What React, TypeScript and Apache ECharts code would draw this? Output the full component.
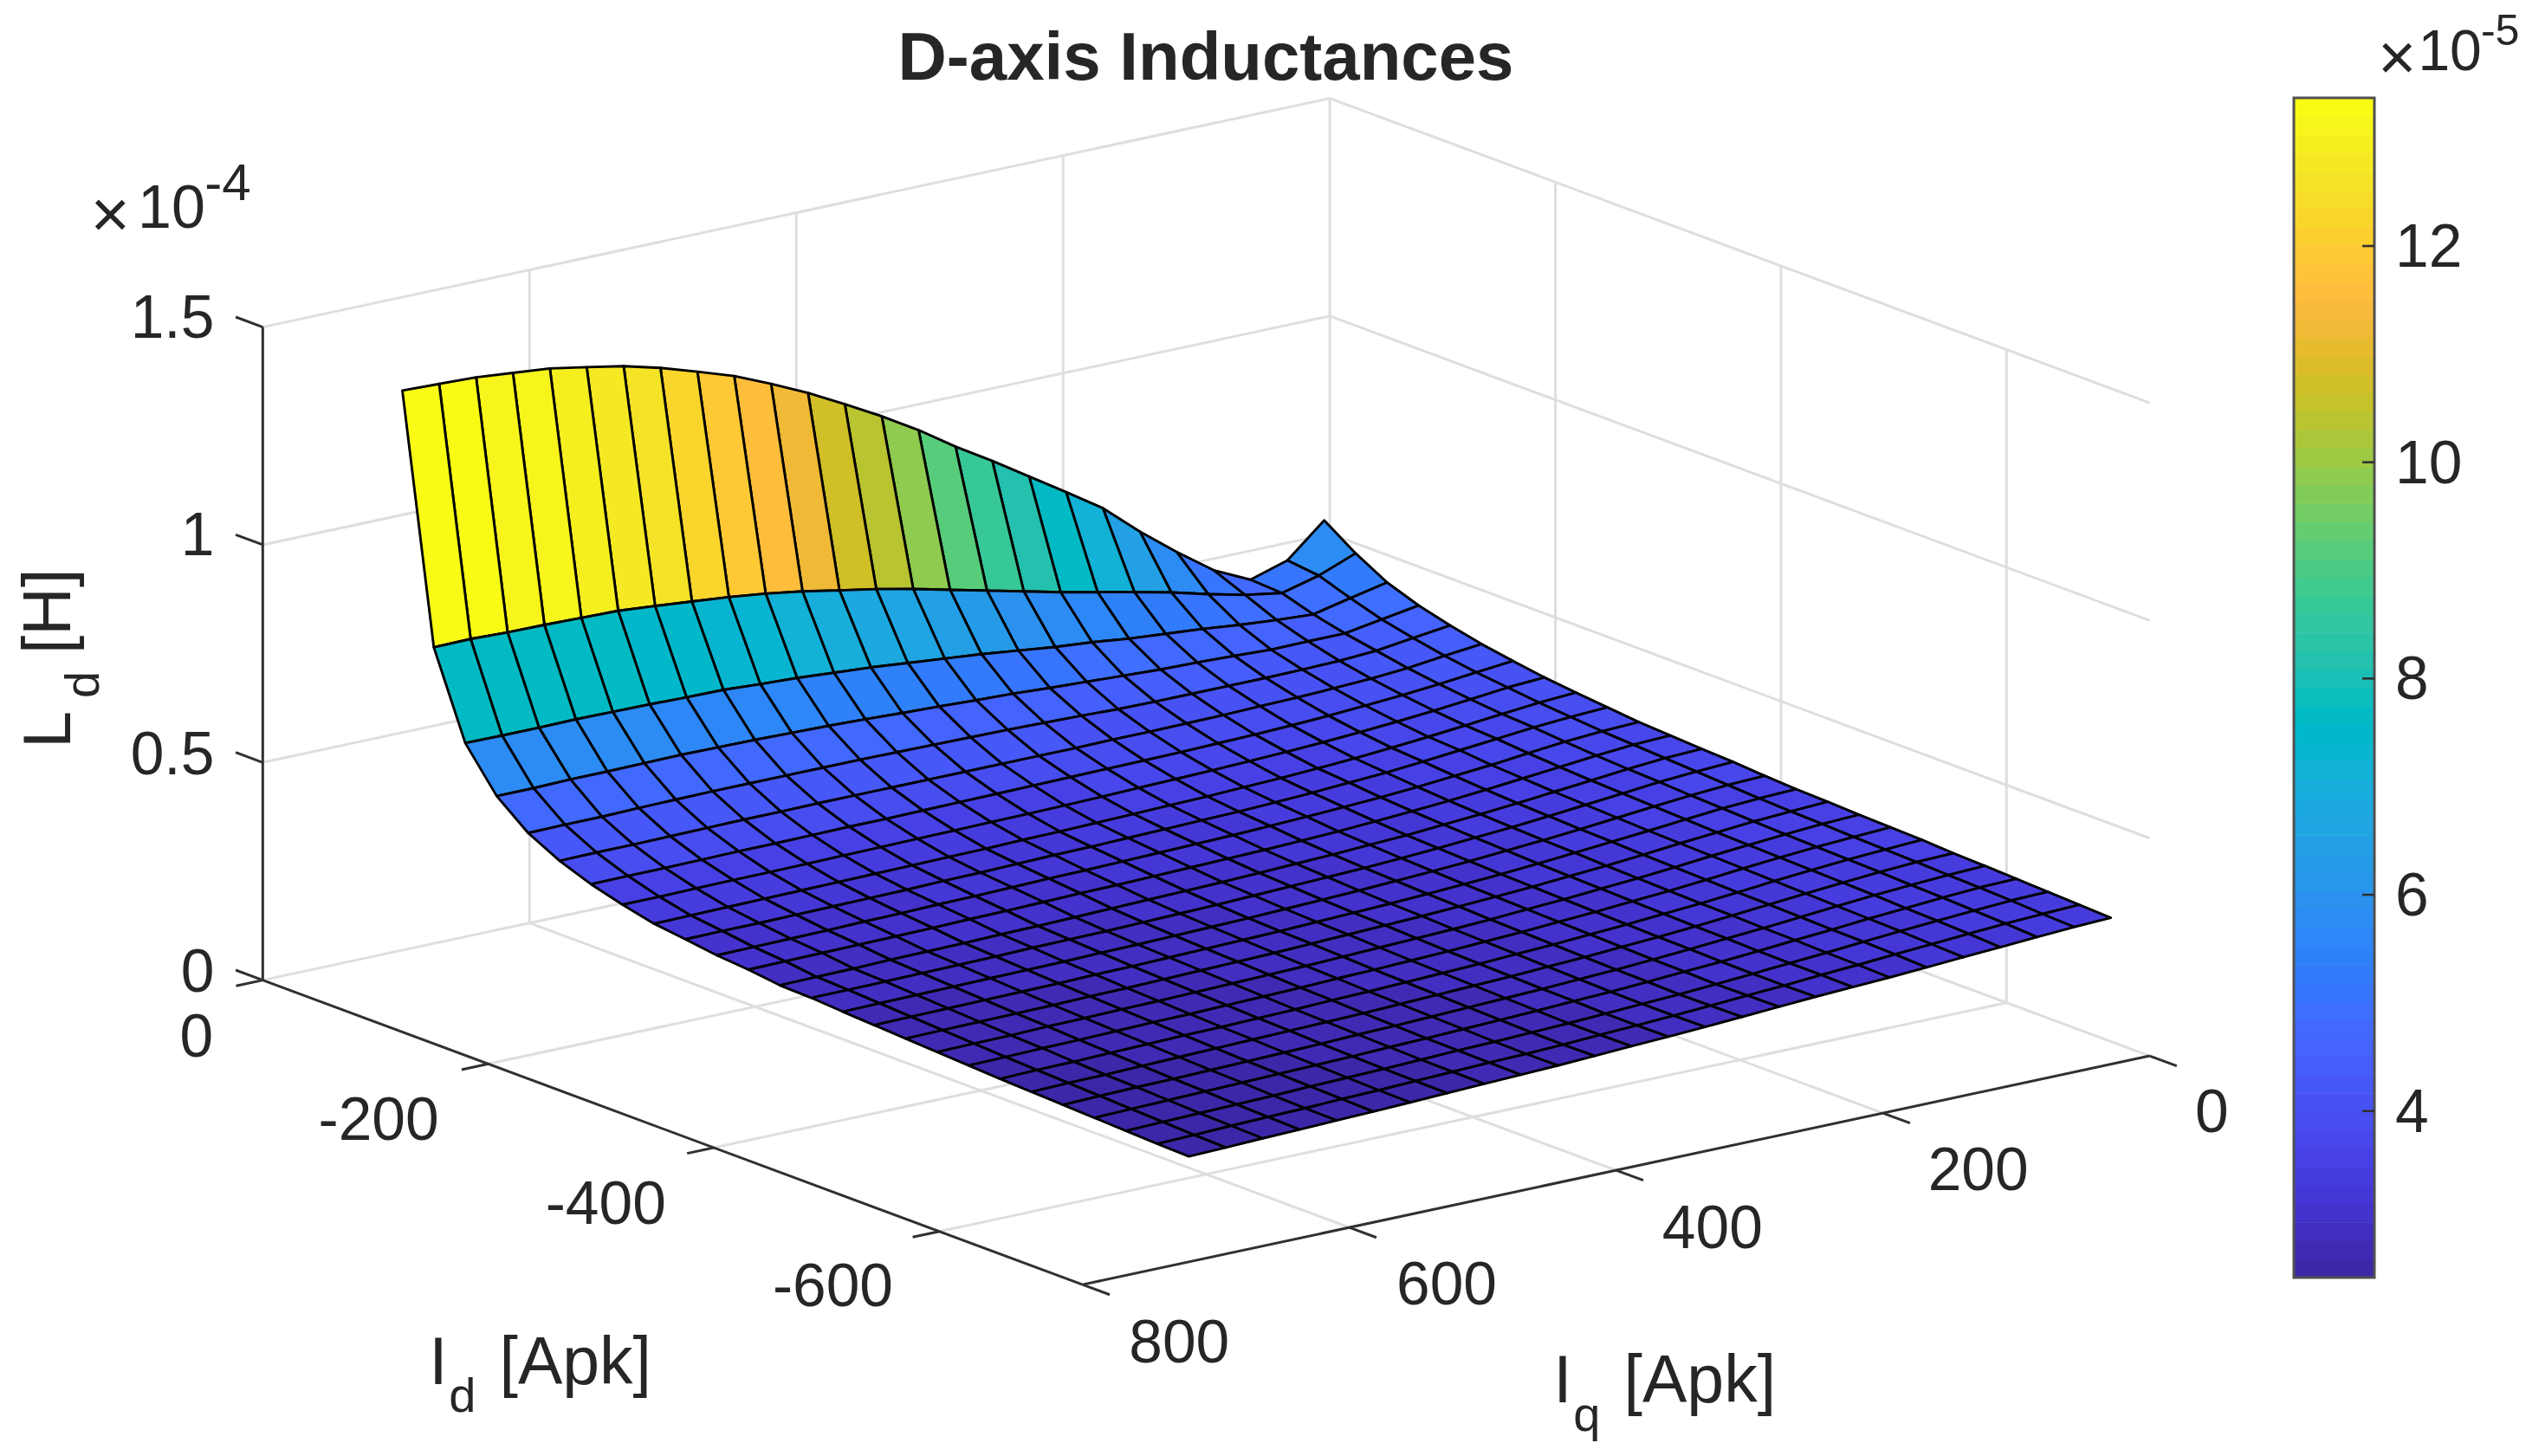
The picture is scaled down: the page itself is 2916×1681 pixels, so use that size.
import React, { useEffect, useRef } from "react";
import * as echarts from "echarts";

// ---------- data ----------
const idGrid = [-28, -55.9, -83.8, -111.7, -139.6, -167.5, -195.4, -223.3, -251.2, -279.1, -307, -334.9, -362.8, -390.7, -418.6, -446.5, -474.4, -502.3, -530.2, -558.1, -586, -613.9, -641.8, -669.7, -697.6, -725.5];
const iqGrid = [27.9, 55.5, 83.2, 110.8, 138.5, 166.1, 193.8, 221.4, 249.1, 276.7, 304.3, 332, 359.6, 387.3, 414.9, 442.6, 470.2, 497.8, 525.5, 553.1, 580.8, 608.4, 636.1, 663.7, 691.4, 719];

// Ld in units of 1e-5 H, one row per Id value, one column per Iq value
const row00 = [5.76,5.02,4.76,5.16,5.76,6.41,7.13,7.68,8.22,8.76,9.27,9.83,10.33,10.79,11.23,11.62,11.98,12.26,12.53,12.75,12.91,13.06,13.14,13.22,13.25,13.28];
const row01 = [5.27,4.94,4.72,4.86,5.06,5.28,5.47,5.65,5.83,6.03,6.23,6.43,6.63,6.81,6.96,7.12,7.25,7.35,7.43,7.51,7.58,7.60,7.62,7.63,7.66,7.65];
const row02 = [4.87,4.69,4.50,4.55,4.62,4.71,4.78,4.85,4.95,5.02,5.12,5.22,5.30,5.38,5.46,5.52,5.58,5.62,5.67,5.68,5.70,5.71,5.72,5.71,5.71,5.72];
const row03 = [4.61,4.47,4.33,4.33,4.32,4.36,4.39,4.41,4.45,4.49,4.53,4.58,4.61,4.65,4.68,4.72,4.75,4.77,4.79,4.80,4.81,4.80,4.79,4.79,4.77,4.77];
const row04 = [4.42,4.31,4.20,4.15,4.13,4.12,4.12,4.12,4.12,4.13,4.16,4.18,4.20,4.21,4.22,4.23,4.24,4.24,4.24,4.24,4.24,4.23,4.22,4.20,4.20,4.19];
const row05 = [4.26,4.17,4.07,4.01,3.97,3.94,3.92,3.90,3.89,3.88,3.88,3.87,3.87,3.87,3.87,3.87,3.87,3.87,3.87,3.86,3.86,3.85,3.84,3.83,3.83,3.82];
const row06 = [4.14,4.06,3.97,3.90,3.84,3.79,3.75,3.72,3.70,3.68,3.67,3.66,3.65,3.64,3.63,3.62,3.61,3.60,3.60,3.59,3.58,3.58,3.57,3.56,3.56,3.55];
const row07 = [4.03,3.98,3.89,3.81,3.74,3.68,3.63,3.59,3.56,3.53,3.51,3.49,3.47,3.45,3.44,3.43,3.42,3.41,3.40,3.39,3.38,3.37,3.37,3.36,3.35,3.35];
const row08 = [3.95,3.90,3.82,3.74,3.66,3.59,3.53,3.48,3.44,3.41,3.38,3.36,3.34,3.32,3.30,3.29,3.27,3.26,3.25,3.24,3.23,3.22,3.21,3.20,3.19,3.18];
const row09 = [3.88,3.84,3.78,3.70,3.62,3.54,3.47,3.42,3.37,3.33,3.30,3.28,3.26,3.24,3.22,3.21,3.19,3.17,3.16,3.14,3.13,3.12,3.11,3.10,3.10,3.09];
const row10 = [3.81,3.78,3.72,3.64,3.55,3.48,3.41,3.35,3.31,3.27,3.24,3.21,3.19,3.17,3.15,3.13,3.12,3.10,3.08,3.07,3.05,3.04,3.02,3.01,3.00,2.99];
const row11 = [3.77,3.74,3.67,3.59,3.51,3.43,3.36,3.30,3.25,3.20,3.17,3.14,3.12,3.10,3.08,3.06,3.05,3.03,3.01,3.00,2.98,2.97,2.96,2.95,2.94,2.93];
const row12 = [3.73,3.70,3.63,3.55,3.47,3.39,3.32,3.26,3.20,3.16,3.12,3.09,3.06,3.03,3.01,2.99,2.97,2.95,2.93,2.92,2.90,2.89,2.88,2.86,2.85,2.84];
const row13 = [3.70,3.66,3.60,3.52,3.44,3.36,3.29,3.23,3.17,3.12,3.08,3.05,3.02,2.99,2.96,2.94,2.92,2.90,2.89,2.88,2.86,2.85,2.84,2.83,2.82,2.82];
const row14 = [3.65,3.62,3.56,3.49,3.41,3.33,3.26,3.20,3.14,3.09,3.05,3.01,2.98,2.95,2.92,2.90,2.88,2.86,2.85,2.83,2.82,2.81,2.80,2.79,2.78,2.77];
const row15 = [3.61,3.58,3.53,3.46,3.38,3.31,3.24,3.17,3.11,3.06,3.02,2.98,2.95,2.92,2.89,2.87,2.85,2.83,2.81,2.80,2.78,2.77,2.76,2.75,2.74,2.73];
const row16 = [3.59,3.55,3.50,3.43,3.36,3.28,3.21,3.15,3.09,3.04,3.00,2.96,2.93,2.90,2.87,2.84,2.82,2.80,2.78,2.76,2.75,2.73,2.72,2.71,2.70,2.69];
const row17 = [3.56,3.53,3.47,3.41,3.34,3.26,3.19,3.13,3.07,3.02,2.97,2.93,2.90,2.87,2.84,2.81,2.79,2.77,2.75,2.73,2.72,2.70,2.69,2.67,2.66,2.65];
const row18 = [3.54,3.50,3.45,3.39,3.32,3.24,3.17,3.11,3.05,3.00,2.95,2.91,2.87,2.84,2.81,2.79,2.76,2.74,2.72,2.70,2.69,2.67,2.65,2.64,2.62,2.61];
const row19 = [3.52,3.48,3.43,3.37,3.30,3.22,3.15,3.09,3.03,2.98,2.93,2.89,2.85,2.82,2.79,2.76,2.74,2.71,2.69,2.67,2.66,2.64,2.62,2.60,2.59,2.57];
const row20 = [3.48,3.46,3.41,3.35,3.28,3.21,3.14,3.07,3.01,2.96,2.91,2.87,2.83,2.80,2.77,2.74,2.71,2.69,2.67,2.65,2.63,2.61,2.59,2.57,2.56,2.54];
const row21 = [3.46,3.43,3.38,3.33,3.26,3.19,3.12,3.06,3.00,2.94,2.89,2.85,2.81,2.78,2.75,2.72,2.69,2.67,2.64,2.62,2.60,2.58,2.56,2.55,2.53,2.51];
const row22 = [3.43,3.41,3.36,3.30,3.24,3.17,3.11,3.04,2.98,2.93,2.88,2.83,2.80,2.76,2.73,2.70,2.67,2.65,2.62,2.60,2.58,2.56,2.54,2.52,2.50,2.48];
const row23 = [3.40,3.38,3.33,3.28,3.22,3.16,3.09,3.03,2.97,2.91,2.86,2.82,2.78,2.74,2.71,2.68,2.66,2.63,2.60,2.58,2.56,2.53,2.51,2.49,2.47,2.45];
const row24 = [3.37,3.34,3.30,3.25,3.19,3.14,3.08,3.03,2.97,2.92,2.87,2.82,2.78,2.74,2.70,2.67,2.65,2.62,2.59,2.56,2.54,2.51,2.49,2.47,2.44,2.42];
const row25 = [3.34,3.31,3.26,3.21,3.16,3.11,3.06,3.02,2.98,2.93,2.88,2.83,2.79,2.75,2.71,2.67,2.64,2.61,2.58,2.55,2.52,2.50,2.47,2.45,2.42,2.40];
const ldRows = [row00,row01,row02,row03,row04,row05,row06,row07,row08,row09,row10,row11,row12,row13,row14,row15,row16,row17,row18,row19,row20,row21,row22,row23,row24,row25];

const idTicks = [0, -200, -400, -600];
const iqTicks = [0, 200, 400, 600, 800];
const zTicks = [0, 5, 10, 15]; // 1e-5 H
const idLabels = ["0", "-200", "-400", "-600"];
const iqLabels = ["0", "200", "400", "600", "800"];
const zLabels = ["0", "0.5", "1", "1.5"];
const cbarTicks = [4, 6, 8, 10, 12];
const C_MIN = 2.46;
const C_MAX = 13.37;
const ID_END = -727;
const IQ_END = 800;

const parula = [
  [0.2422,0.1504,0.6603],[0.2504,0.1650,0.7076],[0.2578,0.1818,0.7511],[0.2647,0.1978,0.7952],
  [0.2706,0.2147,0.8364],[0.2751,0.2342,0.8710],[0.2783,0.2559,0.8991],[0.2803,0.2782,0.9221],
  [0.2813,0.3006,0.9414],[0.2810,0.3228,0.9579],[0.2795,0.3447,0.9717],[0.2760,0.3667,0.9829],
  [0.2699,0.3892,0.9906],[0.2602,0.4123,0.9952],[0.2440,0.4358,0.9988],[0.2206,0.4603,0.9973],
  [0.1963,0.4847,0.9892],[0.1834,0.5074,0.9798],[0.1786,0.5289,0.9682],[0.1764,0.5499,0.9520],
  [0.1687,0.5703,0.9359],[0.1540,0.5902,0.9218],[0.1460,0.6091,0.9079],[0.1380,0.6276,0.8973],
  [0.1248,0.6459,0.8883],[0.1113,0.6635,0.8763],[0.0952,0.6798,0.8598],[0.0689,0.6948,0.8394],
  [0.0297,0.7082,0.8163],[0.0036,0.7203,0.7917],[0.0067,0.7312,0.7660],[0.0433,0.7411,0.7394],
  [0.0964,0.7500,0.7120],[0.1408,0.7584,0.6842],[0.1717,0.7670,0.6554],[0.1938,0.7758,0.6251],
  [0.2161,0.7843,0.5923],[0.2470,0.7918,0.5567],[0.2906,0.7973,0.5188],[0.3406,0.8008,0.4789],
  [0.3909,0.8029,0.4354],[0.4456,0.8024,0.3909],[0.5044,0.7993,0.3480],[0.5616,0.7942,0.3045],
  [0.6174,0.7876,0.2612],[0.6720,0.7793,0.2227],[0.7242,0.7698,0.1910],[0.7738,0.7598,0.1646],
  [0.8203,0.7498,0.1535],[0.8634,0.7406,0.1596],[0.9035,0.7330,0.1774],[0.9393,0.7288,0.2100],
  [0.9728,0.7298,0.2394],[0.9956,0.7434,0.2371],[0.9970,0.7659,0.2199],[0.9952,0.7893,0.2028],
  [0.9892,0.8136,0.1885],[0.9786,0.8386,0.1766],[0.9676,0.8639,0.1643],[0.9610,0.8890,0.1537],
  [0.9597,0.9135,0.1423],[0.9628,0.9373,0.1265],[0.9691,0.9606,0.1064],[0.9769,0.9839,0.0805],
];

// ---------- projection of the MATLAB view (orthographic) ----------
const S = 2916 / 1568;
const project = (id: number, iq: number, z: number): [number, number] => [
  S * (825.5 - 0.7 * id - 0.828 * iq),
  S * (466.5 - 0.26 * id + 0.1775 * iq - 27.03 * z),
];

const toCss = (c: number[]) =>
  `rgb(${Math.round(c[0] * 255)},${Math.round(c[1] * 255)},${Math.round(c[2] * 255)})`;
const colorOf = (z: number) => {
  const k = Math.max(0, Math.min(parula.length - 1, Math.floor(((z - C_MIN) / (C_MAX - C_MIN)) * parula.length)));
  return toCss(parula[k]);
};

const GRID = "#dedede";
const AXIS = "#303030";
const TEXT = "#262626";
const FONT = '"Liberation Sans", Arial, sans-serif';

// segments: id1, iq1, z1, id2, iq2, z2, kind (0 grid, 1 axis)
const segments: number[][] = [];
const zTop = zTicks[zTicks.length - 1];
idTicks.forEach((id) => {
  if (id !== 0) {
    segments.push([id, IQ_END, 0, id, 0, 0, 0]);
    segments.push([id, 0, 0, id, 0, zTop, 0]);
  }
});
iqTicks.forEach((iq) => {
  if (iq !== 0 && iq !== IQ_END) {
    segments.push([ID_END, iq, 0, 0, iq, 0, 0]);
    segments.push([0, iq, 0, 0, iq, zTop, 0]);
  }
});
zTicks.forEach((z) => {
  segments.push([0, IQ_END, z, 0, 0, z, 0]);
  segments.push([0, 0, z, ID_END, 0, z, 0]);
});
segments.push([0, 0, 0, 0, 0, zTop, 0]);
// axis lines
segments.push([0, IQ_END, 0, 0, IQ_END, zTop, 1]);
segments.push([0, IQ_END, 0, ID_END, IQ_END, 0, 1]);
segments.push([ID_END, IQ_END, 0, ID_END, 0, 0, 1]);
// axis ticks
zTicks.forEach((z) => segments.push([0, IQ_END, z, 24, IQ_END, z, 1]));
idTicks.forEach((id) => segments.push([id, IQ_END, 0, id, IQ_END + 20, 0, 1]));
iqTicks.forEach((iq) => segments.push([ID_END, iq, 0, ID_END - 24, iq, 0, 1]));

// cells, far to near
const cells: number[][] = [];
for (let sum = 0; sum <= (idGrid.length - 2) + (iqGrid.length - 2); sum++) {
  for (let i = 0; i < idGrid.length - 1; i++) {
    const j = sum - i;
    if (j >= 0 && j < iqGrid.length - 1) cells.push([i, j]);
  }
}

const text = (t: string, x: number, y: number, size: number, align = "center", extra: any = {}) => {
  const { bold, ...rest } = extra;
  return {
    type: "text",
    x: x * S,
    y: y * S,
    silent: true,
    ...rest,
    style: {
      text: t,
      fill: TEXT,
      font: `${bold ? "bold " : ""}${size}px ${FONT}`,
      textAlign: align,
      textVerticalAlign: "middle",
    },
  };
};

const TICK = 69.5;
const LABEL = 77;
const SUB = 56;

const zLabelY = [603, 468, 332, 197];
const idLabelPos = [[122, 643], [235, 695], [376, 747], [517, 798]];
const iqLabelPos = [[1373, 690], [1228, 726], [1063, 762], [898, 797], [732, 833]];

const graphics: any[] = [
  text("D-axis Inductances", 748.5, 35, 78, "center", { bold: true }),
  ...zLabels.map((t, k) => text(t, 133, zLabelY[k], TICK, "right")),
  ...idLabels.map((t, k) => text(t, idLabelPos[k][0], idLabelPos[k][1], TICK)),
  ...iqLabels.map((t, k) => text(t, iqLabelPos[k][0], iqLabelPos[k][1], TICK)),
  text("×", 68.5, 133, 78),
  text("10", 85.5, 128.5, 70, "left"),
  text("-4", 127, 113, 60, "left"),
  text("×", 1488, 35, 76),
  text("10", 1501, 31, 66, "left"),
  text("-5", 1540, 19, 50, "left"),
  text("I", 272, 845, LABEL),
  text("d", 287, 866, SUB),
  text("[Apk]", 310, 845, LABEL, "left"),
  text("I", 970, 856, LABEL),
  text("q", 985, 878, SUB),
  text("[Apk]", 1008, 856, LABEL, "left"),
  text("L", 29, 453, LABEL, "center", { rotation: Math.PI / 2 }),
  text("d", 51, 425, SUB, "center", { rotation: Math.PI / 2 }),
  text("[H]", 29, 406, LABEL, "left", { rotation: Math.PI / 2 }),
];

export default function App() {
  const ref = useRef<HTMLDivElement>(null);
  useEffect(() => {
    document.body.style.margin = "0";
    const chart = echarts.init(ref.current!, undefined, { renderer: "svg" });
    chart.setOption({
      animation: false,
      backgroundColor: "#ffffff",
      grid: [
        { left: 0, top: 0, width: 2916, height: 1681 },
        { left: 2648, top: 113, width: 93, height: 1362 },
      ],
      xAxis: [
        { type: "value", min: 0, max: 2916, show: false, gridIndex: 0 },
        { type: "value", min: 0, max: 1, show: false, gridIndex: 1 },
      ],
      yAxis: [
        { type: "value", min: 0, max: 1681, inverse: true, show: false, gridIndex: 0 },
        {
          type: "value",
          gridIndex: 1,
          min: C_MIN,
          max: C_MAX,
          position: "right",
          splitLine: { show: false },
          axisLine: { show: false, onZero: false },
          axisTick: { show: false },
          axisLabel: { show: true, customValues: cbarTicks, margin: 24, fontSize: TICK, fontFamily: FONT, color: TEXT, formatter: (v: number) => String(v) },
        },
      ],
      graphic: { elements: graphics },
      series: [
        {
          type: "custom",
          coordinateSystem: "cartesian2d",
          xAxisIndex: 0,
          yAxisIndex: 0,
          clip: false,
          silent: true,
          z: 1,
          data: segments,
          renderItem: (_p: any, api: any) => {
            const a = api.coord(project(api.value(0), api.value(1), api.value(2)));
            const b = api.coord(project(api.value(3), api.value(4), api.value(5)));
            const isAxis = api.value(6) === 1;
            return {
              type: "line",
              z2: isAxis ? 5 : 0,
              shape: { x1: a[0], y1: a[1], x2: b[0], y2: b[1] },
              style: { stroke: isAxis ? AXIS : GRID, lineWidth: 3 },
            };
          },
        },
        {
          type: "custom",
          coordinateSystem: "cartesian2d",
          xAxisIndex: 0,
          yAxisIndex: 0,
          clip: false,
          silent: true,
          z: 2,
          data: cells,
          renderItem: (_p: any, api: any) => {
            const i = api.value(0);
            const j = api.value(1);
            const corner = (a: number, b: number) => api.coord(project(idGrid[a], iqGrid[b], ldRows[a][b]));
            return {
              type: "polygon",
              shape: { points: [corner(i, j), corner(i + 1, j), corner(i + 1, j + 1), corner(i, j + 1)] },
              style: { fill: colorOf(ldRows[i][j]), stroke: "#000000", lineWidth: 2.9, lineJoin: "round" },
            };
          },
        },
        {
          type: "custom",
          coordinateSystem: "cartesian2d",
          xAxisIndex: 1,
          yAxisIndex: 1,
          clip: false,
          silent: true,
          z: 2,
          data: parula.map((_c, k) => [k, k + 1]),
          renderItem: (_p: any, api: any) => {
            const k = api.value(0);
            const lo = C_MIN + ((C_MAX - C_MIN) * k) / parula.length;
            const hi = C_MIN + ((C_MAX - C_MIN) * (k + 1)) / parula.length;
            const a = api.coord([0, hi]);
            const b = api.coord([1, lo]);
            return {
              type: "rect",
              shape: { x: a[0], y: a[1], width: b[0] - a[0], height: b[1] - a[1] + 0.6 },
              style: { fill: toCss(parula[k]) },
            };
          },
        },
        {
          type: "custom",
          coordinateSystem: "cartesian2d",
          xAxisIndex: 1,
          yAxisIndex: 1,
          clip: false,
          silent: true,
          z: 3,
          data: [[0, C_MAX]],
          renderItem: (_p: any, api: any) => {
            const a = api.coord([0, C_MAX]);
            const b = api.coord([1, C_MIN]);
            return {
              type: "rect",
              shape: { x: a[0], y: a[1], width: b[0] - a[0], height: b[1] - a[1] },
              style: { fill: "none", stroke: "#505050", lineWidth: 3 },
            };
          },
        },
        {
          type: "custom",
          coordinateSystem: "cartesian2d",
          xAxisIndex: 1,
          yAxisIndex: 1,
          clip: false,
          silent: true,
          z: 4,
          data: cbarTicks.map((v) => [1, v]),
          renderItem: (_p: any, api: any) => {
            const a = api.coord([api.value(0), api.value(1)]);
            return {
              type: "line",
              shape: { x1: a[0] - 14, y1: a[1], x2: a[0], y2: a[1] },
              style: { stroke: "#303030", lineWidth: 2.6 },
            };
          },
        },
      ],
    });
    return () => chart.dispose();
  }, []);
  return <div ref={ref} style={{ width: 2916, height: 1681 }} />;
}
